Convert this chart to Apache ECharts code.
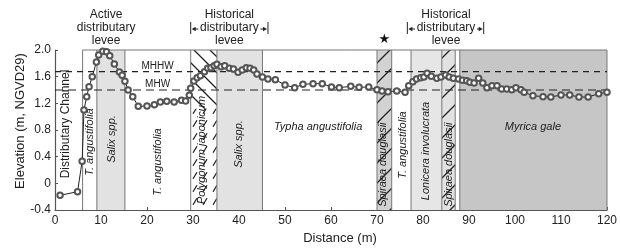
<!DOCTYPE html>
<html>
<head>
<meta charset="utf-8">
<script src="https://cdn.jsdelivr.net/npm/echarts@6/dist/echarts.min.js"></script>
<style>
  html, body { margin: 0; padding: 0; background: #fff; }
  #chart { width: 620px; height: 250px; }
</style>
</head>
<body>
<div id="chart"></div>
<script>
// survey profile: distance (m) and elevation (m, NGVD29)
const distance = [1.1, 4.9, 5.9, 6.3, 6.9, 7.4, 8.1, 9.0, 9.5, 10.4, 11.2, 11.9, 12.9, 14.0, 14.6, 15.2, 15.9, 16.9, 18.1, 20.0,
  21.6, 22.9, 24.3, 25.9, 27.5, 28.4, 29.2, 29.5, 30.2, 30.9, 31.6, 32.5, 33.2, 33.9, 34.6, 35.2, 36.1, 36.9, 37.9, 38.8,
  39.8, 40.7, 41.6, 42.4, 43.2, 43.9, 45.1, 46.3, 47.9, 50.0, 52.1, 53.9, 56.1, 58.1, 60.1, 61.8, 64.3, 66.1, 68.2, 70.0,
  71.1, 72.4, 74.3, 76.1, 76.9, 77.8, 78.6, 79.5, 80.2, 80.9, 81.8, 83.0, 83.9, 84.9, 85.7, 86.6, 87.7, 88.6, 89.5, 90.2,
  91.1, 92.1, 93.0, 93.9, 95.0, 96.1, 97.1, 98.2, 99.3, 100.2, 101.3, 102.0, 103.9, 106.1, 107.8, 110.0, 111.9, 113.9, 115.9, 118.2, 120.0]
const elevation = [-0.18, -0.125, 0.33, 1.10, 1.30, 1.45, 1.60, 1.82, 1.925, 1.98, 1.975, 1.915, 1.79, 1.67, 1.62, 1.53, 1.40, 1.30, 1.155, 1.16,
  1.18, 1.22, 1.23, 1.22, 1.245, 1.235, 1.32, 1.425, 1.535, 1.585, 1.615, 1.675, 1.725, 1.735, 1.765, 1.785, 1.75, 1.765, 1.725, 1.715,
  1.665, 1.70, 1.735, 1.725, 1.70, 1.64, 1.595, 1.565, 1.555, 1.475, 1.435, 1.485, 1.495, 1.495, 1.445, 1.435, 1.455, 1.44, 1.445, 1.405,
  1.385, 1.375, 1.385, 1.365, 1.465, 1.525, 1.565, 1.585, 1.595, 1.65, 1.605, 1.575, 1.595, 1.625, 1.595, 1.575, 1.565, 1.545, 1.54, 1.515,
  1.505, 1.575, 1.505, 1.435, 1.465, 1.465, 1.415, 1.415, 1.405, 1.435, 1.405, 1.365, 1.315, 1.30, 1.295, 1.325, 1.325, 1.295, 1.295, 1.345, 1.365]

// tidal datums
const levelNames = ['MHHW', 'MHW']
const levelValues = [1.675, 1.40]
const levelLabelX = [22.3, 22.3]
const levelLabelY = [1.76, 1.49]

// vegetation zones (shaded / hatched)
const bandFrom = [9.1, 29.5, 35.2, 70.0, 77.4, 84.1, 88.0]
const bandTo = [15.2, 35.2, 45.1, 73.2, 84.1, 87.0, 120]
const bandKind = ['light', 'polygonum', 'light', 'spiraea', 'lonicera', 'spiraea2', 'dark']
const boundaries = [6, 9.1, 15.2, 29.5, 35.2, 45.1, 70.0, 73.2, 77.4, 84.1, 87.0, 88.0, 120]

// zone names
const zoneNames = ['Distributary Channel', 'T. angustifolia', 'Salix spp.', 'T. angustifolia', 'Polygonum japonicum',
  'Salix spp.', 'Typha angustifolia', 'Spiraea douglasii', 'T. angustifolia', 'Lonicera involucrata', 'Spiraea douglasii', 'Myrica gale']
const zoneX = [2.4, 7.6, 12.3, 22.4, 31.9, 40.0, 57.2, 71.35, 75.6, 80.7, 85.6, 103.9]
const zoneY = [0.89, 0.62, 0.665, 0.32, 0.50, 0.59, 0.845, 0.28, 0.575, 0.485, 0.28, 0.845]
const zoneVertical = [1, 1, 1, 1, 1, 1, 0, 1, 1, 1, 1, 0]
const zoneItalic = [0, 1, 1, 1, 1, 1, 1, 1, 1, 1, 1, 1]

// levee headings above the plot
const headX = [11.1, 37.9, 85.0]
const headLines = [['Active', 'distributary', 'levee'], ['Historical', 'distributary', 'levee'], ['Historical', 'distributary', 'levee']]
const headRowY = [2.525, 2.33, 2.135]
const bracketX = [[], [29.5, 46.3], [76.6, 93.2]]
const starX = 71.6
const starY = 2.16

const FONT = '"Liberation Sans", Arial, sans-serif'

function hatch (bg, dir, w, h, seg) {
  const c = document.createElement('canvas')
  c.width = w
  c.height = h
  const g = c.getContext('2d')
  if (bg) {
    g.fillStyle = bg
    g.fillRect(0, 0, w, h)
  }
  g.strokeStyle = '#222'
  g.lineWidth = 1.3
  g.beginPath()
  if (seg) {
    g.moveTo(w * 0.3, h * 0.75)
    g.lineTo(w * 0.7, h * 0.25)
  } else if (dir === '/') {
    g.moveTo(0, h); g.lineTo(w, 0)
    g.moveTo(-2, 2); g.lineTo(2, -2)
    g.moveTo(w - 2, h + 2); g.lineTo(w + 2, h - 2)
  } else {
    g.moveTo(0, 0); g.lineTo(w, h)
    g.moveTo(-2, h - 2); g.lineTo(2, h + 2)
    g.moveTo(w - 2, -2); g.lineTo(w + 2, 2)
  }
  g.stroke()
  return { image: c, repeat: 'repeat' }
}

const fills = {
  light: '#e2e2e2',
  lonicera: '#e6e6e6',
  dark: '#c6c6c6',
  spiraea: hatch('#d2d2d2', '/', 20, 20),
  spiraea2: hatch('#e2e2e2', '/', 20, 20)
}
const polyTop = hatch('#ffffff', '\\', 16, 16)
const polyLow = hatch('#ffffff', '/', 10, 13, true)

const chart = echarts.init(document.getElementById('chart'))

const bandData = bandFrom.map((f, i) => [f, bandTo[i], i])

// arrow from x1 to x2 (pixels) at height y, head at x2
function arrow (x1, x2, y) {
  const d = x2 > x1 ? 1 : -1
  return [
    { type: 'line', shape: { x1, y1: y, x2: x2 - d * 2, y2: y }, style: { stroke: '#222', lineWidth: 1 } },
    { type: 'polygon', shape: { points: [[x2, y], [x2 - d * 4, y - 2.2], [x2 - d * 4, y + 2.2]] }, style: { fill: '#222' } }
  ]
}

const option = {
  animation: false,
  grid: { left: 55, right: 5, top: 50, bottom: 40 },
  xAxis: {
    type: 'value', min: 0, max: 120, interval: 10,
    name: 'Distance (m)', nameLocation: 'middle', nameGap: 21,
    nameTextStyle: { fontSize: 13, color: '#222', fontFamily: FONT, padding: [0, 0, 0, 18] },
    axisLine: { onZero: false, lineStyle: { color: '#555', width: 1.2 } },
    axisTick: { inside: true, length: 3, lineStyle: { color: '#555' } },
    axisLabel: { fontSize: 12, color: '#222', fontFamily: FONT, margin: 5 },
    splitLine: { show: false }
  },
  yAxis: {
    type: 'value', min: -0.4, max: 2.0, interval: 0.4,
    axisLine: { show: true, lineStyle: { color: '#555', width: 1.2 } },
    axisTick: { show: true, inside: true, length: 3, lineStyle: { color: '#555' } },
    axisLabel: {
      fontSize: 12, color: '#222', fontFamily: FONT, margin: 4,
      formatter: v => (Math.abs(v) < 1e-9 ? '0' : v.toFixed(1))
    },
    splitLine: { show: false }
  },
  graphic: [{
    type: 'text', x: 20, y: 121, rotation: Math.PI / 2,
    style: { text: 'Elevation (m, NGVD29)', fontSize: 13, fontFamily: FONT, fill: '#222', align: 'center', verticalAlign: 'middle' }
  }],
  series: [
    {
      type: 'custom', z: 1, silent: true,
      data: bandData,
      renderItem: (params, api) => {
        const i = api.value(2)
        const p0 = api.coord([api.value(0), 2.0])
        const p1 = api.coord([api.value(1), -0.4])
        const kind = bandKind[i]
        if (kind === 'polygonum') {
          const mid = api.coord([0, 1.12])[1]
          return {
            type: 'group',
            children: [
              { type: 'rect', shape: { x: p0[0], y: p0[1], width: p1[0] - p0[0], height: mid - p0[1] }, style: { fill: polyTop } },
              { type: 'rect', shape: { x: p0[0], y: mid, width: p1[0] - p0[0], height: p1[1] - mid }, style: { fill: polyLow } }
            ]
          }
        }
        return {
          type: 'rect',
          shape: { x: p0[0], y: p0[1], width: p1[0] - p0[0], height: p1[1] - p0[1] },
          style: { fill: fills[kind] }
        }
      }
    },
    {
      type: 'custom', z: 2, silent: true,
      data: [[0]],
      renderItem: (params, api) => {
        const children = boundaries.map(b => {
          const a = api.coord([b, 2.0])
          const c = api.coord([b, -0.4])
          return { type: 'line', shape: { x1: a[0], y1: a[1], x2: c[0], y2: c[1] }, style: { stroke: '#777', lineWidth: 1 } }
        })
        const t0 = api.coord([boundaries[0], 2.0])
        const t1 = api.coord([120, 2.0])
        children.push({ type: 'line', shape: { x1: t0[0], y1: t0[1], x2: t1[0], y2: t1[1] }, style: { stroke: '#777', lineWidth: 1 } })
        return { type: 'group', children }
      }
    },
    ...levelValues.map((v, i) => ({
      type: 'line', z: 3, silent: true, showSymbol: false,
      data: [[0, v], [120, v]],
      lineStyle: { color: '#222', width: 1.2, type: i === 0 ? [6, 5] : [8, 5] }
    })),
    {
      type: 'line', z: 4,
      data: distance.map((d, i) => [d, elevation[i]]),
      symbol: 'emptyCircle', symbolSize: 5.5,
      lineStyle: { color: '#222', width: 1 },
      itemStyle: { color: '#555', borderWidth: 0.7 }
    },
    {
      type: 'custom', z: 5, silent: true,
      data: [[0]],
      renderItem: (params, api) => {
        const children = []
        zoneNames.forEach((t, i) => {
          const p = api.coord([zoneX[i], zoneY[i]])
          children.push({
            type: 'text', x: p[0], y: p[1], rotation: zoneVertical[i] ? Math.PI / 2 : 0,
            style: {
              text: t, fontSize: i === 0 ? 12 : 11, fontStyle: zoneItalic[i] ? 'italic' : 'normal',
              fontFamily: FONT, fill: '#222', align: 'center', verticalAlign: 'middle'
            }
          })
        })
        levelNames.forEach((t, i) => {
          const p = api.coord([levelLabelX[i], levelLabelY[i]])
          children.push({ type: 'text', x: p[0], y: p[1], style: { text: t, fontSize: 10, fontFamily: FONT, fill: '#222', align: 'center', verticalAlign: 'middle' } })
        })
        headX.forEach((hx, i) => {
          headLines[i].forEach((t, r) => {
            const p = api.coord([hx, headRowY[r]])
            children.push({ type: 'text', x: p[0], y: p[1], style: { text: t, fontSize: 12, fontFamily: FONT, fill: '#222', align: 'center', verticalAlign: 'middle' } })
          })
          if (bracketX[i].length) {
            const c = api.coord([hx, headRowY[1]])
            const half = 30
            const l = api.coord([bracketX[i][0], headRowY[1]])[0]
            const r = api.coord([bracketX[i][1], headRowY[1]])[0]
            children.push(...arrow(c[0] - half - 1, l + 1, c[1] + 1))
            children.push(...arrow(c[0] + half + 1, r - 1, c[1] + 1))
            ;[l, r].forEach(x => {
              children.push({ type: 'line', shape: { x1: x, y1: c[1] - 6, x2: x, y2: c[1] + 6 }, style: { stroke: '#222', lineWidth: 1 } })
            })
          }
        })
        const s = api.coord([starX, starY])
        children.push({ type: 'text', x: s[0], y: s[1], style: { text: '\u2605', fontSize: 13, fontFamily: '"DejaVu Sans", sans-serif', fill: '#111', align: 'center', verticalAlign: 'middle' } })
        return { type: 'group', children }
      }
    }
  ]
}

chart.setOption(option)
</script>
</body>
</html>
